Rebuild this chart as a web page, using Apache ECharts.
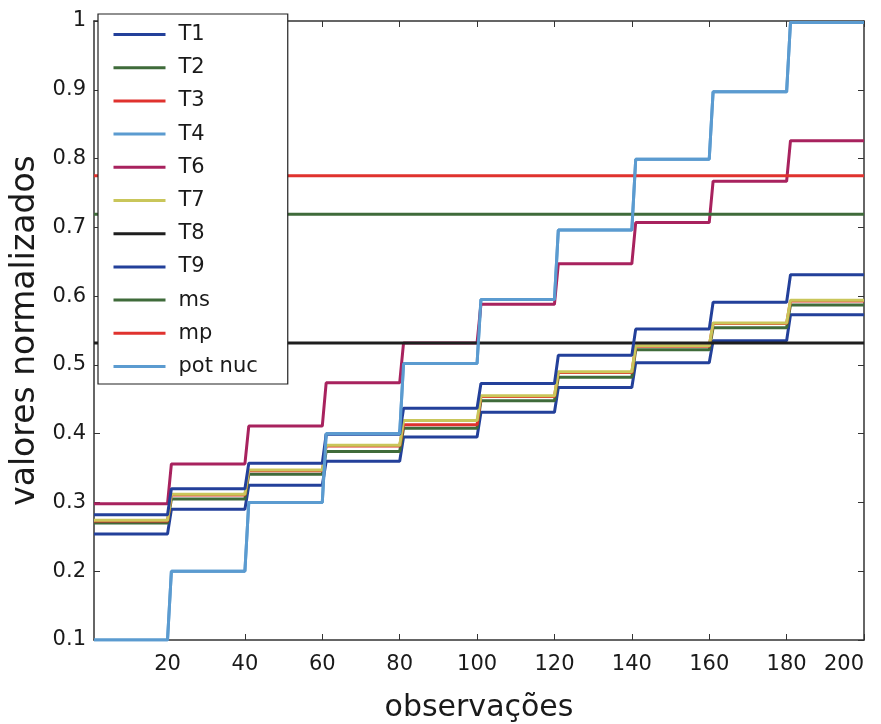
<!DOCTYPE html>
<html>
<head>
<meta charset="utf-8">
<script src="https://cdn.jsdelivr.net/npm/echarts@6/dist/echarts.min.js"></script>
<style>html,body{margin:0;padding:0;background:#fff}#c{width:881px;height:724px}</style>
</head>
<body>
<div id="c"></div>
<script>
// observation blocks (each block of 20 observations has a constant value)
var blockStart = [1, 21, 41, 61, 81, 101, 121, 141, 161, 181];
var blockEnd   = [20, 40, 60, 80, 100, 120, 140, 160, 180, 200];
var xTicks = [20, 40, 60, 80, 100, 120, 140, 160, 180, 200];
var yTicks = [0.1, 0.2, 0.3, 0.4, 0.5, 0.6, 0.7, 0.8, 0.9, 1];

var seriesNames = ['T1', 'T2', 'T3', 'T4', 'T6', 'T7', 'T8', 'T9', 'ms', 'mp', 'pot nuc'];
var T1     = [0.254, 0.290, 0.325, 0.360, 0.395, 0.431, 0.467, 0.503, 0.535, 0.573];
var T2     = [0.270, 0.305, 0.341, 0.374, 0.408, 0.448, 0.482, 0.522, 0.554, 0.587];
var T3     = [0.273, 0.311, 0.346, 0.382, 0.413, 0.454, 0.489, 0.527, 0.560, 0.593];
var T4     = [0.100, 0.200, 0.300, 0.400, 0.502, 0.595, 0.696, 0.799, 0.897, 0.998];
var T6     = [0.298, 0.356, 0.411, 0.474, 0.532, 0.588, 0.647, 0.707, 0.767, 0.826];
var T7     = [0.274, 0.312, 0.347, 0.383, 0.419, 0.455, 0.490, 0.528, 0.561, 0.594];
var T8     = [0.532, 0.532, 0.532, 0.532, 0.532, 0.532, 0.532, 0.532, 0.532, 0.532];
var T9     = [0.282, 0.320, 0.357, 0.399, 0.437, 0.473, 0.514, 0.552, 0.591, 0.631];
var ms     = [0.719, 0.719, 0.719, 0.719, 0.719, 0.719, 0.719, 0.719, 0.719, 0.719];
var mp     = [0.775, 0.775, 0.775, 0.775, 0.775, 0.775, 0.775, 0.775, 0.775, 0.775];
var potNuc = [0.100, 0.200, 0.300, 0.400, 0.502, 0.595, 0.696, 0.799, 0.897, 0.998];

var seriesValues = [T1, T2, T3, T4, T6, T7, T8, T9, ms, mp, potNuc];
var seriesColors = ['#23409a', '#3f6b3a', '#e0322e', '#5b9bd0', '#a8225e', '#c9c65a', '#1e1e1e', '#23409a', '#3f6b3a', '#e0322e', '#5b9bd0'];

function blockData(vals) {
  var out = [];
  for (var i = 0; i < vals.length; i++) {
    out.push([blockStart[i], vals[i]]);
    out.push([blockEnd[i], vals[i]]);
  }
  return out;
}

var FONT = 'DejaVu Sans';
var series = seriesNames.map(function (n, i) {
  return {
    name: n, type: 'line', data: blockData(seriesValues[i]),
    showSymbol: false, symbol: 'none', animation: false,
    lineStyle: { color: seriesColors[i], width: 3 },
    itemStyle: { color: seriesColors[i] }
  };
});

var chart = echarts.init(document.getElementById('c'), null, { renderer: 'canvas' });
chart.setOption({
  animation: false,
  backgroundColor: '#ffffff',
  grid: { left: 94, right: 17, top: 21, bottom: 84, show: false, outerBoundsMode: 'none', containLabel: false },
  legend: {
    orient: 'vertical', left: 98, top: 14,
    data: seriesNames,
    backgroundColor: '#ffffff', borderColor: '#222', borderWidth: 1.2,
    padding: [10, 30, 7, 14],
    itemWidth: 52, itemHeight: 14, itemGap: 12.2,
    itemStyle: { opacity: 0 },
    lineStyle: { width: 3 },
    textStyle: { fontFamily: FONT, fontSize: 21, color: '#1a1a1a', lineHeight: 21, padding: [0, 0, 0, 8] },
    selectedMode: false
  },
  xAxis: [{
    type: 'value', min: 1, max: 200, position: 'bottom',
    name: 'observações', nameLocation: 'middle', nameGap: 53,
    nameTextStyle: { fontFamily: FONT, fontSize: 30, color: '#1a1a1a' },
    axisLine: { show: true, onZero: false, lineStyle: { color: '#333', width: 1.5 } },
    axisTick: { show: true, inside: true, length: 6, customValues: xTicks, lineStyle: { color: '#333' } },
    axisLabel: { show: true, customValues: xTicks, margin: 14, fontFamily: FONT, fontSize: 21, color: '#1a1a1a',
      alignMaxLabel: 'right' },
    splitLine: { show: false }
  }, {
    type: 'value', min: 1, max: 200, position: 'top',
    axisLine: { show: true, onZero: false, lineStyle: { color: '#333', width: 1.5 } },
    axisTick: { show: true, inside: true, length: 6, customValues: xTicks, lineStyle: { color: '#333' } },
    axisLabel: { show: false }, splitLine: { show: false }
  }],
  yAxis: [{
    type: 'value', min: 0.1, max: 1, position: 'left',
    name: 'valores normalizados', nameLocation: 'middle', nameGap: 49,
    nameTextStyle: { fontFamily: FONT, fontSize: 33, color: '#1a1a1a' },
    axisLine: { show: true, onZero: false, lineStyle: { color: '#333', width: 1.5 } },
    axisTick: { show: true, inside: true, length: 6, customValues: yTicks, lineStyle: { color: '#333' } },
    axisLabel: { show: true, customValues: yTicks, margin: 8, fontFamily: FONT, fontSize: 21, color: '#1a1a1a',
      formatter: function (v) { return String(Math.round(v * 10) / 10); } },
    splitLine: { show: false }
  }, {
    type: 'value', min: 0.1, max: 1, position: 'right',
    axisLine: { show: true, onZero: false, lineStyle: { color: '#333', width: 1.5 } },
    axisTick: { show: true, inside: true, length: 6, customValues: yTicks, lineStyle: { color: '#333' } },
    axisLabel: { show: false }, splitLine: { show: false }
  }],
  series: series
});
</script>
</body>
</html>
